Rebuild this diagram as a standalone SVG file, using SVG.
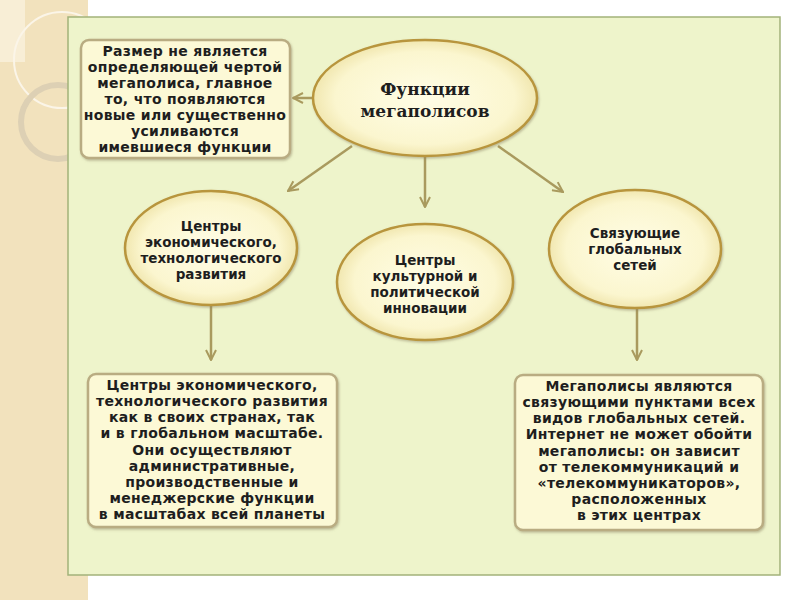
<svg xmlns="http://www.w3.org/2000/svg" width="800" height="600" viewBox="0 0 800 600">
<defs>
<radialGradient id="eg" cx="50%" cy="50%" r="50%">
<stop offset="0" stop-color="#fffde6"/>
<stop offset="0.8" stop-color="#fbf6cf"/>
<stop offset="1" stop-color="#f1e7b0"/>
</radialGradient>
<marker id="ah" viewBox="0 0 12 12" refX="11" refY="6" markerWidth="12" markerHeight="12" markerUnits="userSpaceOnUse" orient="auto">
<path d="M1,1 L11,6 L1,11" fill="none" stroke="#a99a5e" stroke-width="2"/>
</marker>
<filter id="sh" x="-10%" y="-10%" width="120%" height="120%">
<feDropShadow dx="1" dy="1.5" stdDeviation="1.2" flood-color="#8a8060" flood-opacity="0.5"/>
</filter>
</defs>
<style>
.t{font-family:"DejaVu Sans",Verdana,sans-serif;font-weight:bold;font-size:14px;letter-spacing:0.3px;fill:#1e1e1e;text-anchor:middle}
.e{font-family:"DejaVu Sans",Verdana,sans-serif;font-weight:bold;font-size:13.5px;fill:#1e1e1e;text-anchor:middle}
.box{fill:#fcf9d6;stroke:#b9ac82;stroke-width:2.5;filter:url(#sh)}
.ell{fill:url(#eg);stroke:#b8953c;stroke-width:2.5;filter:url(#sh)}
.con{stroke:#a99a5e;stroke-width:2.5;fill:none;marker-end:url(#ah)}
.ttl{font-family:"DejaVu Serif","Liberation Serif",serif;font-weight:bold;font-size:17px;fill:#1e1e1e;text-anchor:middle}
</style>
<rect width="800" height="600" fill="#ffffff"/>
<rect x="0" y="0" width="88" height="600" fill="#f2e2bd"/>
<rect x="0" y="0" width="25" height="62" fill="#f8eed6"/>
<circle cx="62" cy="60" r="48" fill="none" stroke="#fbf5e8" stroke-width="2"/>
<circle cx="58" cy="122" r="37" fill="none" stroke="#ddd0b4" stroke-width="6"/>
<rect x="68" y="17" width="712" height="558" fill="#eef4cb" stroke="#a2b27a" stroke-width="1.5"/>

<g id="connectors">
<line class="con" x1="313" y1="98" x2="293" y2="98"/>
<line class="con" x1="352" y1="146" x2="288" y2="191"/>
<line class="con" x1="425" y1="157" x2="425" y2="207"/>
<line class="con" x1="498" y1="146" x2="563" y2="192"/>
<line class="con" x1="211" y1="305" x2="211" y2="360"/>
<line class="con" x1="637" y1="308" x2="637" y2="360"/>
</g>

<g id="note-top">
<rect class="box" x="81" y="40" width="209" height="118" rx="8"/>
<text class="t" x="185" y="56">Размер не является</text>
<text class="t" x="185" y="72">определяющей чертой</text>
<text class="t" x="185" y="88">мегаполиса, главное</text>
<text class="t" x="185" y="104">то, что появляются</text>
<text class="t" x="185" y="120">новые или существенно</text>
<text class="t" x="185" y="136">усиливаются</text>
<text class="t" x="185" y="152">имевшиеся функции</text>
</g>

<g id="main">
<ellipse class="ell" cx="425" cy="98" rx="112" ry="58"/>
<text class="ttl" x="425" y="95">Функции</text>
<text class="ttl" x="425" y="117">мегаполисов</text>
</g>

<g id="econ">
<ellipse class="ell" cx="211" cy="248" rx="86" ry="57"/>
<text class="e" x="211" y="231">Центры</text>
<text class="e" x="211" y="247">экономического,</text>
<text class="e" x="211" y="263">технологического</text>
<text class="e" x="211" y="279">развития</text>
</g>

<g id="culture">
<ellipse class="ell" cx="425" cy="282" rx="88" ry="58"/>
<text class="e" x="425" y="265">Центры</text>
<text class="e" x="425" y="281">культурной и</text>
<text class="e" x="425" y="297">политической</text>
<text class="e" x="425" y="313">инновации</text>
</g>

<g id="networks">
<ellipse class="ell" cx="635" cy="249" rx="86" ry="59"/>
<text class="e" x="635" y="238">Связующие</text>
<text class="e" x="635" y="254">глобальных</text>
<text class="e" x="635" y="270">сетей</text>
</g>

<g id="note-econ">
<rect class="box" x="88" y="374" width="249" height="153" rx="8"/>
<text class="t" x="212" y="390">Центры экономического,</text>
<text class="t" x="212" y="406">технологического развития</text>
<text class="t" x="212" y="422">как в своих странах, так</text>
<text class="t" x="212" y="438">и в глобальном масштабе.</text>
<text class="t" x="212" y="455">Они осуществляют</text>
<text class="t" x="212" y="471">административные,</text>
<text class="t" x="212" y="487">производственные и</text>
<text class="t" x="212" y="503">менеджерские функции</text>
<text class="t" x="212" y="519">в масштабах всей планеты</text>
</g>

<g id="note-networks">
<rect class="box" x="515" y="375" width="248" height="155" rx="8"/>
<text class="t" x="639" y="391">Мегаполисы являются</text>
<text class="t" x="639" y="407">связующими пунктами всех</text>
<text class="t" x="639" y="423">видов глобальных сетей.</text>
<text class="t" x="639" y="439">Интернет не может обойти</text>
<text class="t" x="639" y="456">мегаполисы: он зависит</text>
<text class="t" x="639" y="472">от телекоммуникаций и</text>
<text class="t" x="639" y="488">«телекоммуникаторов»,</text>
<text class="t" x="639" y="504">расположенных</text>
<text class="t" x="639" y="520">в этих центрах</text>
</g>
</svg>
